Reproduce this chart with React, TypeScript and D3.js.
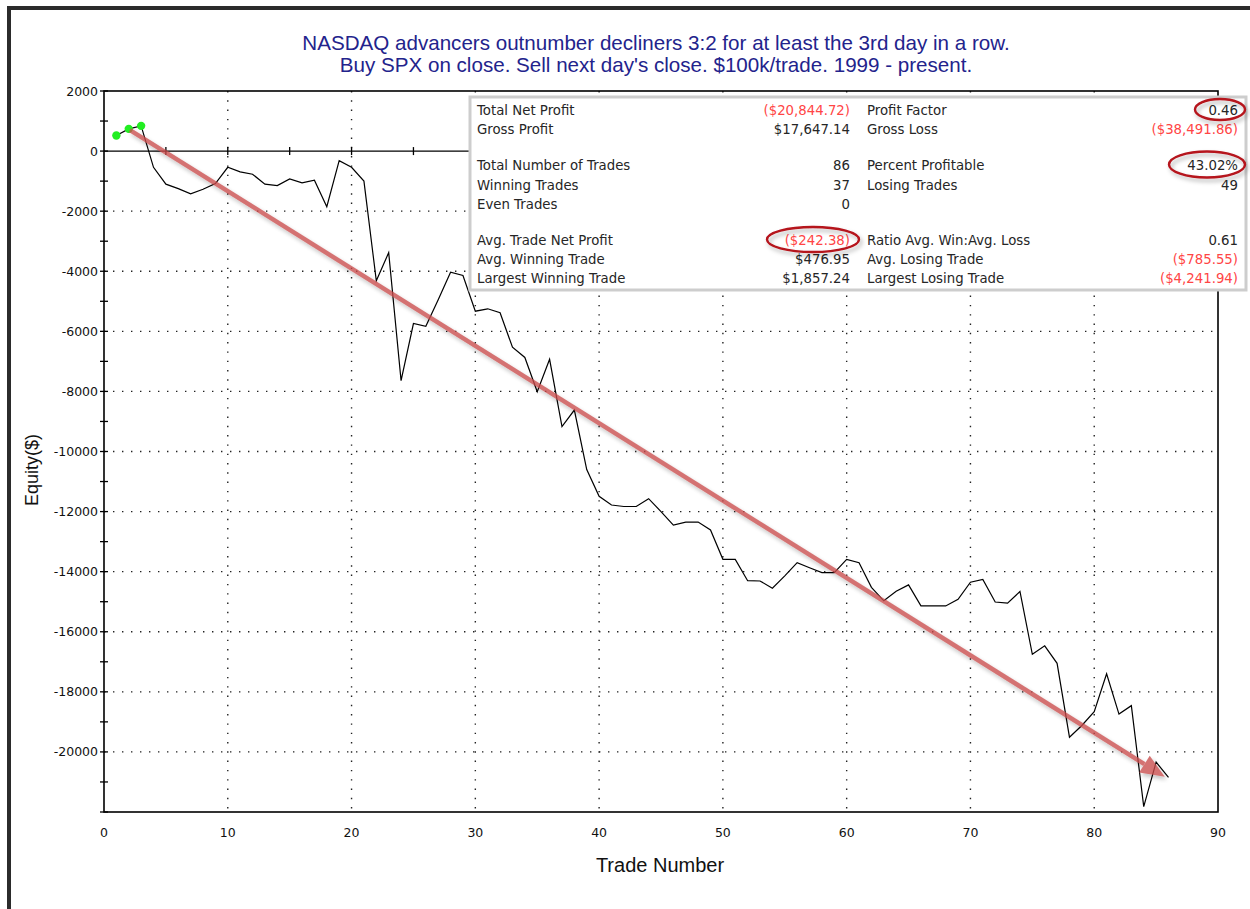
import React from "react";
import * as d3 from "d3";

const titleLines = [
  "NASDAQ advancers outnumber decliners 3:2 for at least the 3rd day in a row.",
  "Buy SPX on close. Sell next day's close. $100k/trade. 1999 - present.",
];

const equity = [
  520, 740, 840, -540, -1100, -1250, -1420, -1270, -1080, -540,
  -690, -770, -1100, -1150, -930, -1060, -970, -1850, -320, -540,
  -1000, -4320, -3380, -7640, -5740, -5830, -4950, -4030, -4140, -5330,
  -5250, -5380, -6530, -6870, -8010, -6930, -9170, -8620, -10600, -11490,
  -11780, -11830, -11830, -11570, -12000, -12450, -12350, -12350, -12610, -13590,
  -13590, -14300, -14310, -14550, -14140, -13700, -13870, -14030, -14030, -13590,
  -13700, -14520, -14970, -14650, -14440, -15140, -15140, -15140, -14920, -14350,
  -14260, -15010, -15050, -14660, -16750, -16470, -17050, -19510, -19120, -18660,
  -17400, -18740, -18460, -21820, -20340, -20845,
];

const newHighTrades = [1, 2, 3];

const xTicksMajor = [0, 10, 20, 30, 40, 50, 60, 70, 80, 90];
const yTicksMajor = [2000, 0, -2000, -4000, -6000, -8000, -10000, -12000, -14000, -16000, -18000, -20000];

const leftLabels = [
  "Total Net Profit", "Gross Profit", "Total Number of Trades", "Winning Trades",
  "Even Trades", "Avg. Trade Net Profit", "Avg. Winning Trade", "Largest Winning Trade",
];
const leftValues = [
  "($20,844.72)", "$17,647.14", "86", "37", "0", "($242.38)", "$476.95", "$1,857.24",
];
const rightLabels = [
  "Profit Factor", "Gross Loss", "Percent Profitable", "Losing Trades",
  "", "Ratio Avg. Win:Avg. Loss", "Avg. Losing Trade", "Largest Losing Trade",
];
const rightValues = [
  "0.46", "($38,491.86)", "43.02%", "49", "", "0.61", "($785.55)", "($4,241.94)",
];

// trend arrow annotation in data coordinates
const arrowStart = { trade: 2.1, equity: 700 };
const arrowEnd = { trade: 85.7, equity: -20830 };

export default function App() {
  const W = 1250;
  const H = 909;
  const x = d3.scaleLinear().domain([0, 90]).range([104, 1218]);
  const y = d3.scaleLinear().domain([-22000, 2000]).range([812, 91]);

  const line = d3
    .line<number>()
    .x((_, i) => x(i + 1))
    .y((d) => y(d));

  const minorY = d3.range(2000, -22001, -1000);
  const zeroTicks = d3.range(5, 90, 5);

  const rowY = [110, 129, 165.5, 185, 204, 240.5, 259.5, 278.5];
  const isNeg = (s: string) => s.startsWith("(");

  // arrow geometry
  const ax1 = x(arrowStart.trade), ay1 = y(arrowStart.equity);
  const ax2 = x(arrowEnd.trade), ay2 = y(arrowEnd.equity);
  const ang = Math.atan2(ay2 - ay1, ax2 - ax1);
  const headLen = 24, headHalf = 10;
  const bx = ax2 - headLen * Math.cos(ang), by = ay2 - headLen * Math.sin(ang);
  const px = -Math.sin(ang), py = Math.cos(ang);
  const head = [
    [ax2, ay2],
    [bx + headHalf * px, by + headHalf * py],
    [bx - headHalf * px, by - headHalf * py],
  ];

  const tickFont = "'DejaVu Sans', Verdana, sans-serif";
  const statFont = "'DejaVu Sans', Tahoma, sans-serif";

  const ellipses = [
    { cx: 1220, cy: 109.5, rx: 25, ry: 10.5 },
    { cx: 1207, cy: 164.5, rx: 38, ry: 13 },
    { cx: 813, cy: 239.5, rx: 46, ry: 12.5 },
  ];

  return (
    <svg
      width={W}
      height={H}
      style={{ position: "absolute", left: 0, top: 0, background: "#fff" }}
    >
      <defs>
        <filter id="shadow" x="-20%" y="-20%" width="140%" height="140%">
          <feDropShadow dx="2" dy="3" stdDeviation="2" floodColor="#000" floodOpacity="0.3" />
        </filter>
      </defs>
      <rect x={0} y={0} width={W} height={H} fill="#fff" />
      {/* window frame */}
      <rect x={7} y={6} width={W - 7} height={4} fill="#2b2b2b" />
      <rect x={7} y={6} width={4} height={H - 6} fill="#2b2b2b" />

      {/* title */}
      {titleLines.map((t, i) => (
        <text
          key={i}
          x={656}
          y={42 + i * 22}
          textAnchor="middle"
          dominantBaseline="central"
          fontFamily="'Liberation Sans', Arial, sans-serif"
          fontSize={20.6}
          fill="#23238c"
        >
          {t}
        </text>
      ))}

      {/* gridlines */}
      {yTicksMajor
        .filter((v) => v !== 0 && v !== 2000)
        .map((v) => (
          <line
            key={"gy" + v}
            x1={x(0)}
            x2={x(90)}
            y1={y(v)}
            y2={y(v)}
            stroke="#222"
            strokeWidth={1.4}
            strokeDasharray="1.4 7.6"
          />
        ))}
      {xTicksMajor
        .filter((v) => v !== 0 && v !== 90)
        .map((v) => (
          <line
            key={"gx" + v}
            x1={x(v)}
            x2={x(v)}
            y1={y(2000)}
            y2={y(-22000)}
            stroke="#222"
            strokeWidth={1.4}
            strokeDasharray="1.4 7.9"
          />
        ))}

      {/* zero line with ticks */}
      <line x1={x(0)} x2={x(90)} y1={y(0)} y2={y(0)} stroke="#000" strokeWidth={1.3} />
      {zeroTicks.map((v) => (
        <line key={"zt" + v} x1={x(v)} x2={x(v)} y1={y(0) - 4} y2={y(0) + 4} stroke="#000" strokeWidth={1.3} />
      ))}

      {/* plot border */}
      <rect
        x={x(0)}
        y={y(2000)}
        width={x(90) - x(0)}
        height={y(-22000) - y(2000)}
        fill="none"
        stroke="#000"
        strokeWidth={1.6}
      />
      {minorY.map((v) => (
        <line key={"my" + v} x1={x(0) - 4} x2={x(0) + 4} y1={y(v)} y2={y(v)} stroke="#000" strokeWidth={1.3} />
      ))}

      {/* tick labels */}
      {yTicksMajor.map((v) => (
        <text
          key={"yl" + v}
          x={98}
          y={y(v)}
          textAnchor="end"
          dominantBaseline="central"
          fontFamily={tickFont}
          fontSize={12.5}
          fill="#111"
        >
          {v}
        </text>
      ))}
      {xTicksMajor.map((v) => (
        <text
          key={"xl" + v}
          x={x(v)}
          y={832}
          textAnchor="middle"
          dominantBaseline="central"
          fontFamily={tickFont}
          fontSize={12.5}
          fill="#111"
        >
          {v}
        </text>
      ))}

      {/* axis titles */}
      <text
        x={660}
        y={865}
        textAnchor="middle"
        dominantBaseline="central"
        fontFamily="'Liberation Sans', Arial, sans-serif"
        fontSize={20}
        fill="#111"
      >
        Trade Number
      </text>
      <text
        transform={`translate(32, 470) rotate(-90)`}
        textAnchor="middle"
        dominantBaseline="central"
        fontFamily="'Liberation Sans', Arial, sans-serif"
        fontSize={18}
        fill="#111"
      >
        Equity($)
      </text>

      {/* equity curve */}
      <path d={line(equity) || ""} fill="none" stroke="#000" strokeWidth={1.2} />
      {newHighTrades.map((t) => (
        <circle key={"nh" + t} cx={x(t)} cy={y(equity[t - 1])} r={4.2} fill="#22ee22" />
      ))}

      {/* stats box */}
      <rect x={470} y={97} width={776} height={193} fill="#fff" stroke="#cdcdcd" strokeWidth={3} />
      {leftLabels.map((l, i) => (
        <g key={"row" + i} fontFamily={statFont} fontSize={13.3}>
          <text x={477} y={rowY[i]} dominantBaseline="central" fill="#262626">
            {l}
          </text>
          <text x={850} y={rowY[i]} textAnchor="end" dominantBaseline="central" fill={isNeg(leftValues[i]) ? "#ff4545" : "#262626"}>
            {leftValues[i]}
          </text>
          <text x={867} y={rowY[i]} dominantBaseline="central" fill="#262626">
            {rightLabels[i]}
          </text>
          <text x={1238} y={rowY[i]} textAnchor="end" dominantBaseline="central" fill={isNeg(rightValues[i]) ? "#ff4545" : "#262626"}>
            {rightValues[i]}
          </text>
        </g>
      ))}

      {/* highlight ellipses */}
      <g filter="url(#shadow)">
        {ellipses.map((e, i) => (
          <ellipse key={"el" + i} cx={e.cx} cy={e.cy} rx={e.rx} ry={e.ry} fill="none" stroke="#b5121b" strokeWidth={2.4} />
        ))}
      </g>

      {/* trend arrow */}
      <g filter="url(#shadow)" opacity={0.78}>
        <line x1={ax1} y1={ay1} x2={bx} y2={by} stroke="#c94c4c" strokeWidth={4.5} />
        <polygon points={head.map((p) => p.join(",")).join(" ")} fill="#c94c4c" />
      </g>
    </svg>
  );
}
